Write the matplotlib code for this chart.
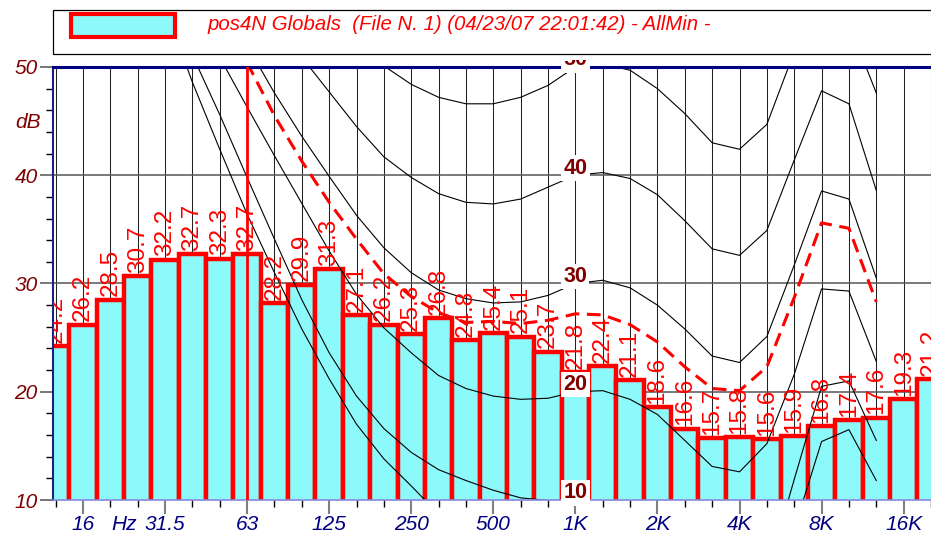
import numpy as np
import matplotlib
matplotlib.use('Agg')
import matplotlib.pyplot as plt
from matplotlib.patches import Rectangle
from matplotlib.ticker import MultipleLocator
from matplotlib.transforms import Bbox, TransformedBbox

plt.rcParams['font.family'] = ['Liberation Sans', 'DejaVu Sans']

# 1/3 octave bands shown on the chart
bands = ['12.5', '16', '20', '25', '31.5', '40', '50', '63', '80', '100',
         '125', '160', '200', '250', '315', '400', '500', '630', '800', '1K',
         '1.25K', '1.6K', '2K', '2.5K', '3.15K', '4K', '5K', '6.3K', '8K',
         '10K', '12.5K', '16K', '20K']
levels = [24.2, 26.2, 28.5, 30.7, 32.2, 32.7, 32.3, 32.7, 28.2, 29.9,
          31.3, 27.1, 26.2, 25.3, 26.8, 24.8, 25.4, 25.1, 23.7, 21.8,
          22.4, 21.1, 18.6, 16.6, 15.7, 15.8, 15.6, 15.9, 16.8, 17.4,
          17.6, 19.3, 21.2]

# equal loudness curves, 20 Hz .. 12.5 kHz
thresh = [74.0, 64.0, 55.5, 48.6, 42.4, 36.4, 31.0, 25.8, 21.2, 17.0, 13.8,
          11.3, 8.7, 6.5, 4.8, 3.6, 3.0, 3.2, 3.9, 2.3, -0.6, -3.2, -4.6,
          -4.0, -0.6, 7.3, 15.4, 16.5, 11.8]
phon10 = [80.0, 71.0, 61.0, 51.1, 45.6, 39.8, 34.1, 28.5, 23.6, 19.6, 16.6,
          14.4, 12.8, 11.8, 10.9, 10.2, 9.95, 10.0, 9.6, 8.3, 6.0, 3.4, 1.4,
          1.0, 3.1, 11.9, 20.5, 21.0, 15.5]
phon20 = [88.0, 79.0, 70.0, 60.5, 50.9, 46.3, 41.8, 37.4, 33.0, 29.0, 25.9,
          23.6, 21.5, 20.3, 19.6, 19.3, 19.4, 20.0, 20.1, 19.3, 17.9, 15.5,
          13.1, 12.6, 15.2, 21.6, 29.5, 29.3, 22.8]
phon30 = [95.0, 87.0, 78.5, 70.0, 61.0, 52.0, 47.6, 43.6, 39.9, 36.3, 33.3,
          31.0, 29.4, 28.6, 28.2, 28.3, 28.9, 30.0, 30.3, 29.6, 28.0, 25.8,
          23.3, 22.7, 25.1, 31.7, 38.55, 37.8, 30.5]
phon40 = [102.0, 95.0, 87.0, 79.0, 71.0, 63.0, 56.5, 50.9, 47.7, 44.5, 41.7,
          39.8, 38.3, 37.5, 37.35, 37.8, 38.9, 40.0, 40.25, 39.7, 38.2, 35.8,
          33.2, 32.6, 34.9, 41.4, 47.8, 46.6, 38.6]
phon50 = [108.0, 102.0, 95.0, 88.0, 80.0, 72.0, 66.0, 60.5, 56.5, 53.0, 50.1,
          48.4, 47.2, 46.6, 46.6, 47.2, 48.3, 50.0, 50.3, 49.7, 48.0, 45.7,
          43.0, 42.4, 44.7, 51.4, 55.8, 54.0, 47.6]
curves = [thresh, phon10, phon20, phon30, phon40, phon50]
phon_labels = [10, 20, 30, 40, 50]

# loudness curve of the measurement, 63 Hz .. 12.5 kHz
dashed = [50.4, 45.5, 41.3, 37.5, 34.1, 30.9, 28.8, 27.3, 26.4, 26.5, 26.3,
          26.6, 27.2, 27.1, 26.2, 24.6, 22.3, 20.3, 20.1, 22.3, 28.7, 35.6,
          35.1, 28.3]

tick_labels = ['16', '31.5', '63', '125', '250', '500', '1K', '2K', '4K', '8K', '16K']
title = 'pos4N Globals  (File N. 1) (04/23/07 22:01:42) - AllMin -'

W, H = 931, 535
fig = plt.figure(figsize=(W / 100, H / 100), dpi=100)
ax = fig.add_axes([53 / W, 35 / H, 1 - 53 / W, 433 / H])

x = np.arange(len(bands))
ax.bar(x, levels, width=1.0, bottom=0, color='#8cfafa', edgecolor='red',
       linewidth=3.2, zorder=1.5)

xc = np.arange(bands.index('20'), bands.index('12.5K') + 1)
for c in curves:
    ax.plot(xc, c, color='black', lw=0.8, zorder=2)

xd = np.arange(bands.index('63'), bands.index('12.5K') + 1)
ax.plot(xd, dashed, color='red', lw=2.2, dashes=(4.5, 2.5), zorder=2.5)
ax.axvline(bands.index('63'), color='red', lw=2.0, zorder=2.6)

for i, v in enumerate(levels):
    ax.text(i, v + 0.3, f'{v:.1f}', rotation=90, ha='center', va='bottom',
            color='red', fontsize=17.5, zorder=3, clip_on=True)

clipbox = TransformedBbox(Bbox.from_extents(0, 0, 1, 1 - 60 / H), fig.transFigure)
i1k = bands.index('1K')
for p in phon_labels:
    t = ax.text(i1k, p + 0.15, str(p), ha='center', va='baseline',
                fontweight='bold', color='#800000', fontsize=15.5, zorder=6,
                bbox=dict(facecolor='white', edgecolor='none', pad=1.5))
    t.set_clip_path(None)
    t.set_clip_box(clipbox)
    t.set_clip_on(True)

ax.set_xlim(-0.095, 31.925)
ax.set_ylim(10, 50)

major = [bands.index(b) for b in tick_labels]
ax.set_xticks(major)
ax.set_xticklabels(tick_labels, fontstyle='italic', color='#000080', fontsize=15)
ax.set_xticks([i for i in x if i not in major], minor=True)
ax.tick_params(axis='x', which='major', length=10, width=1.5, color='#808080', pad=0.5)
ax.tick_params(axis='x', which='minor', length=5, width=1, color='black')
ax.text(2.5, -0.0577, 'Hz', transform=ax.get_xaxis_transform(), ha='center',
        va='center', fontstyle='italic', color='#000080', fontsize=15)

ax.set_yticks([10, 20, 30, 40, 50])
ax.set_yticklabels(['10', '20', '30', '40', '50'], fontstyle='italic',
                   color='#800000', fontsize=15)
ax.yaxis.set_minor_locator(MultipleLocator(2))
ax.tick_params(axis='y', which='major', length=9.5, width=1.2, color='#606060', pad=1.5)
ax.tick_params(axis='y', which='minor', length=5, width=1, color='black')

ax.set_axisbelow(True)
ax.grid(True, which='both', axis='x', color='#222222', lw=0.75)
ax.grid(True, which='major', axis='y', color='#555555', lw=1.1)

ax.spines['right'].set_visible(False)
ax.spines['top'].set_color('#000080')
ax.spines['top'].set_linewidth(2.2)
ax.spines['left'].set_color('#202080')
ax.spines['left'].set_linewidth(1.5)
ax.spines['bottom'].set_color('#8888dd')
ax.spines['bottom'].set_linewidth(1.2)

fig.text(28 / W, 1 - 122 / H, 'dB', ha='center', va='center', fontstyle='italic',
         color='#800000', fontsize=15)

# legend box on top
fig.patches.append(Rectangle((53 / W, 1 - 54 / H), 1, 44 / H, transform=fig.transFigure,
                             facecolor='white', edgecolor='black', lw=0.9))
fig.patches.append(Rectangle((71 / W, 1 - 36.5 / H), 104 / W, 23 / H, transform=fig.transFigure,
                             facecolor='#8cfafa', edgecolor='red', lw=3))
fig.text(208 / W, 1 - 30 / H, title, ha='left', va='baseline', fontstyle='italic',
         color='red', fontsize=14.7)

fig.savefig('out.png', dpi=100)
